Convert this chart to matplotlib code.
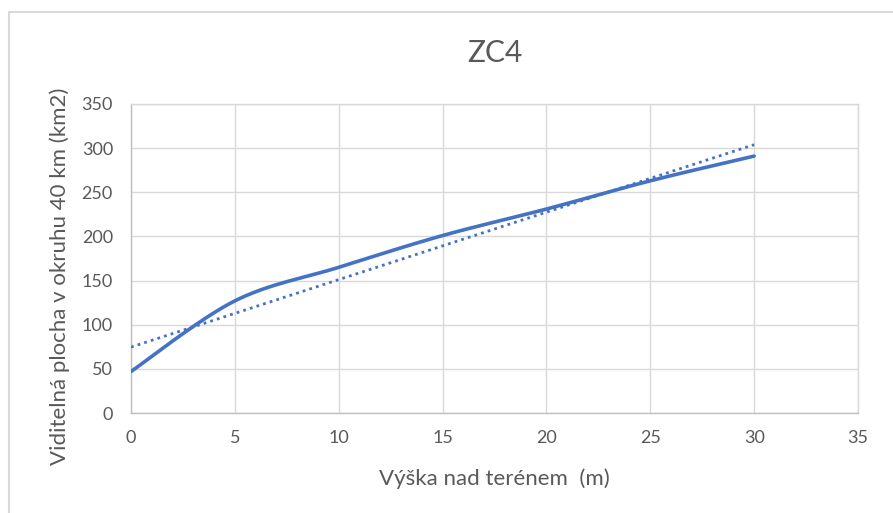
import numpy as np
import matplotlib.pyplot as plt
from matplotlib.patches import Rectangle

# heights above terrain (m) and visible area within 40 km (km2)
heights = [0, 5, 10, 15, 20, 25, 30]
area = [47, 127, 165, 201, 231, 263, 291]

x_ticks = [0, 5, 10, 15, 20, 25, 30, 35]
y_ticks = [0, 50, 100, 150, 200, 250, 300, 350]

blue = '#4472C4'
gray_text = '#595959'
grid_col = '#D9D9D9'

plt.rcParams['font.family'] = ['Lato', 'DejaVu Sans']


def smooth_curve(xs, ys, n=40):
    # cubic bezier segments with catmull-rom style control points
    xs = np.asarray(xs, float)
    ys = np.asarray(ys, float)
    px, py = [], []
    for i in range(len(xs) - 1):
        x0, y0 = (xs[i - 1], ys[i - 1]) if i > 0 else (xs[i], ys[i])
        x3, y3 = (xs[i + 2], ys[i + 2]) if i + 2 < len(xs) else (xs[i + 1], ys[i + 1])
        x1, y1 = xs[i], ys[i]
        x2, y2 = xs[i + 1], ys[i + 1]
        c1x, c1y = x1 + (x2 - x0) / 6, y1 + (y2 - y0) / 6
        c2x, c2y = x2 - (x3 - x1) / 6, y2 - (y3 - y1) / 6
        t = np.linspace(0, 1, n)
        bx = (1-t)**3*x1 + 3*(1-t)**2*t*c1x + 3*(1-t)*t**2*c2x + t**3*x2
        by = (1-t)**3*y1 + 3*(1-t)**2*t*c1y + 3*(1-t)*t**2*c2y + t**3*y2
        px.extend(bx)
        py.extend(by)
    return np.array(px), np.array(py)


fig = plt.figure(figsize=(8.93, 5.13), dpi=100)
ax = fig.add_axes([131/893, 1 - 413/513, 727/893, 309/513])

# chart border (top and left edges visible)
fig.patches.append(Rectangle((9/893, -0.1), 1.2, 1 - 12/513 + 0.1,
                             transform=fig.transFigure, fill=False,
                             edgecolor='#D9D9D9', linewidth=1.5))

sx, sy = smooth_curve(heights, area)
ax.plot(sx, sy, color=blue, linewidth=2.6, solid_capstyle='round', zorder=3)

# linear trendline
k, q = np.polyfit(heights, area, 1)
tx = np.array([heights[0], heights[-1]])
ax.plot(tx, k * tx + q, color=blue, linewidth=2, linestyle=(0, (1, 1.5)), zorder=3)

ax.set_xlim(0, 35)
ax.set_ylim(0, 350)
ax.set_xticks(x_ticks)
ax.set_yticks(y_ticks)
ax.grid(True, color=grid_col, linewidth=1)
ax.set_axisbelow(True)
for s in ax.spines.values():
    s.set_color(grid_col)
    s.set_linewidth(1)
ax.spines['left'].set_color('#BFBFBF')
ax.spines['bottom'].set_color('#BFBFBF')
ax.tick_params(axis='y', length=0, labelsize=13, labelcolor=gray_text, pad=13)
ax.tick_params(axis='x', length=0, labelsize=13, labelcolor=gray_text, pad=12)

ax.set_title('ZC4', fontsize=21.5, color=gray_text, pad=30)
ax.set_xlabel('Výška nad terénem  (m)', fontsize=16, color=gray_text)
ax.xaxis.set_label_coords(0.5, -0.178)
ax.set_ylabel('Viditelná plocha v okruhu 40 km (km2)', fontsize=16, color=gray_text)
ax.yaxis.set_label_coords(-0.098, 0.443)
ax.yaxis.label.set_va('center')

fig.savefig('out.png', dpi=100)
